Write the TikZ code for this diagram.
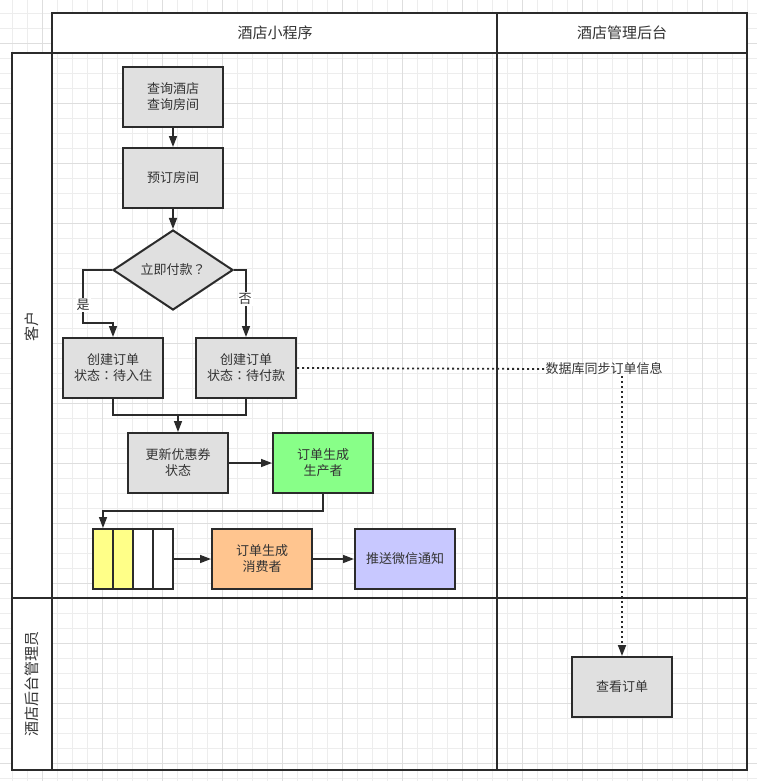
\documentclass[tikz,border=0pt]{standalone}
\usepackage{fontspec}
\setmainfont{Noto Sans CJK SC}
\newfontfamily\punctfont{Noto Sans CJK TC}
\newcommand{\fwcolon}{{\punctfont ：}}
\newcommand{\fwquest}{{\punctfont ？}}
\usetikzlibrary{arrows.meta,shapes.geometric}
\definecolor{ink}{HTML}{2B2B2B}
\definecolor{txt}{HTML}{333333}
\definecolor{boxgray}{HTML}{E0E0E0}
\definecolor{boxgreen}{HTML}{88FF88}
\definecolor{boxorange}{HTML}{FFC58F}
\definecolor{boxpurple}{HTML}{C8C8FF}
\definecolor{boxyellow}{HTML}{FFFF88}
\definecolor{gridminor}{HTML}{EDEDED}
\definecolor{gridmajor}{HTML}{DEDEDE}
\tikzset{
  stepbox/.style={draw=ink, line width=2pt, fill=boxgray, minimum width=100pt, minimum height=60pt,
    inner sep=0pt, align=center, text=txt, font=\fontsize{13}{16}\selectfont},
  decision/.style={diamond, draw=ink, line width=2pt, fill=boxgray, minimum width=120pt, minimum height=80pt,
    inner sep=0pt, aspect=1.5, text=txt, font=\fontsize{13}{16}\selectfont},
  cell/.style={draw=ink, line width=2pt, minimum width=20pt, minimum height=60pt, inner sep=0pt},
  conn/.style={draw=ink, line width=1.5pt, -{Triangle[length=11pt,width=8pt]}},
  plain/.style={draw=ink, line width=1.5pt},
  dotline/.style={draw=ink, line width=1.8pt, dash pattern=on 2pt off 3pt},
  lbl/.style={fill=white, inner sep=1pt, text=txt, font=\fontsize{13}{16}\selectfont},
  head/.style={text=txt, font=\fontsize{15}{18}\selectfont},
  frame/.style={draw=ink, line width=2pt}
}
\begin{document}
\begin{tikzpicture}[x=1pt,y=-1pt]
\useasboundingbox (0,0) rectangle (757,781);
\fill[white] (0,0) rectangle (757,781);
% grid
\foreach \i in {0,...,49} \draw[gridminor, line width=1pt] (12.7+15*\i,0) -- (12.7+15*\i,781);
\foreach \j in {0,...,51} \draw[gridminor, line width=1pt] (0,13.3+15*\j) -- (757,13.3+15*\j);
\foreach \i in {0,...,11} \draw[gridmajor, line width=1pt] (42.7+60*\i,0) -- (42.7+60*\i,781);
\foreach \j in {0,...,12} \draw[gridmajor, line width=1pt] (0,43.3+60*\j) -- (757,43.3+60*\j);
% swimlane frame
\fill[white] (52,13) rectangle (747,53);
\fill[white] (12,53) rectangle (52,770);
\draw[frame] (52,13) rectangle (747,53);
\draw[frame] (52,53) rectangle (747,770);
\draw[frame] (12,53) rectangle (52,770);
\draw[frame] (497,13) -- (497,770);
\draw[frame] (12,598) -- (747,598);
\node[head] (h1) at (275,33) {酒店小程序};
\node[head] (h2) at (622,33) {酒店管理后台};
\node[head, rotate=90] (l1) at (32,326) {客户};
\node[head, rotate=90] (l2) at (32,684) {酒店后台管理员};
% nodes
\node[stepbox] (A) at (173,97) {查询酒店\\查询房间};
\node[stepbox] (B) at (173,178) {预订房间};
\node[decision] (dia) at (173,270) {立即付款\fwquest};
\node[stepbox] (C) at (113,368) {创建订单\\状态\fwcolon 待入住};
\node[stepbox] (D) at (246,368) {创建订单\\状态\fwcolon 待付款};
\node[stepbox] (E) at (178,463) {更新优惠券\\状态};
\node[stepbox, fill=boxgreen] (F) at (323,463) {订单生成\\生产者};
\node[cell, fill=boxyellow] (q1) at (103,559) {};
\node[cell, fill=boxyellow] (q2) at (123,559) {};
\node[cell, fill=white] (q3) at (143,559) {};
\node[cell, fill=white] (q4) at (163,559) {};
\node[stepbox, fill=boxorange] (G) at (262,559) {订单生成\\消费者};
\node[stepbox, fill=boxpurple] (H) at (405,559) {推送微信通知};
\node[stepbox] (I) at (622,687) {查看订单};
\node[text=txt, font=\fontsize{13}{16}\selectfont, inner sep=1pt] (sync) at (604,369) {数据库同步订单信息};
% connectors
\coordinate (yl) at (83,323);
\coordinate (m) at (178,415);
\coordinate (fq) at (103,511);
\draw[conn] (A) -- (B);
\draw[conn] (B) -- (dia);
\draw[conn] (dia.west) -| (yl) -| (C.north);
\draw[conn] (dia.east) -| (D.north);
\node[lbl] (yes) at (83,305) {是};
\node[lbl] (no) at (245,299) {否};
\draw[plain] (C.south) |- (m) -| (D.south);
\draw[conn] (m) -- (E.north);
\draw[conn] (E) -- (F);
\draw[conn] (F.south) |- (fq) -- (q1.north);
\draw[conn] (q4.east) -- (G.west);
\draw[conn] (G) -- (H);
\draw[dotline] (D.east) -- (sync.west);
\draw[dotline, -{Triangle[length=11pt,width=8pt]}] (sync.south -| I.north) -- (I.north);
\end{tikzpicture}
\end{document}
